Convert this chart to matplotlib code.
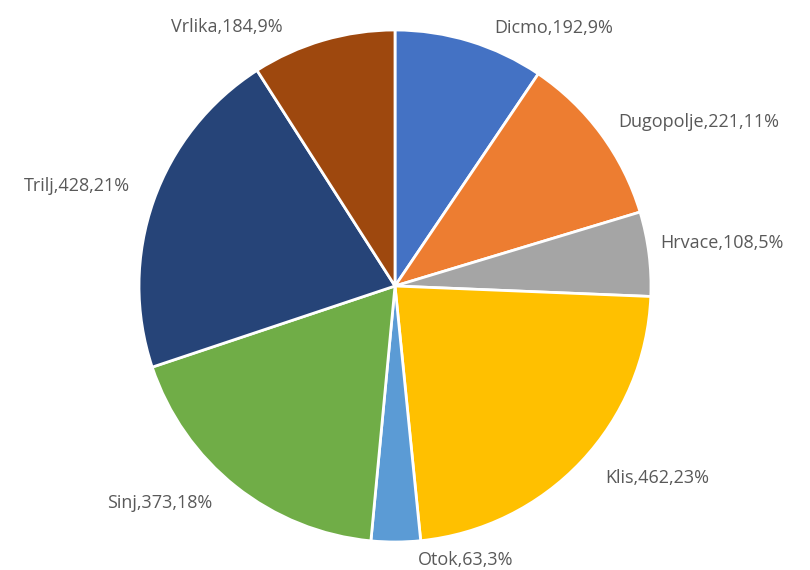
import matplotlib
matplotlib.use("Agg")
import matplotlib.pyplot as plt

places = ["Dicmo", "Dugopolje", "Hrvace", "Klis", "Otok", "Sinj", "Trilj", "Vrlika"]
counts = [192, 221, 108, 462, 63, 373, 428, 184]
percents = [9, 11, 5, 23, 3, 18, 21, 9]
colors = ["#4472C4", "#ED7D31", "#A5A5A5", "#FFC000", "#5B9BD5", "#70AD47", "#264478", "#9E480E"]

# label centres in pixels (from top-left), as Excel placed them
label_pos = [(554, 28), (699, 122), (722, 243), (657, 478), (466, 560),
             (160, 503), (77, 186), (227, 27)]

plt.rcParams['font.family'] = ['Open Sans', 'DejaVu Sans']

W, H = 810, 570
fig = plt.figure(figsize=(8.1, 5.7), dpi=100)
ax = fig.add_axes([0, 0, 1, 1])

wedges, _ = ax.pie(counts, colors=colors, startangle=90, counterclock=False,
                   center=(395, H - 286), radius=256,
                   wedgeprops=dict(edgecolor='white', linewidth=2))
ax.set_xlim(0, W)
ax.set_ylim(0, H)
ax.set_aspect('equal')
ax.axis('off')

for p, c, q, (x, y) in zip(places, counts, percents, label_pos):
    ax.text(x, H - y, f"{p},{c},{q}%", ha='center', va='center',
            fontsize=13, color='#595959')

fig.savefig("out.png", dpi=100)
